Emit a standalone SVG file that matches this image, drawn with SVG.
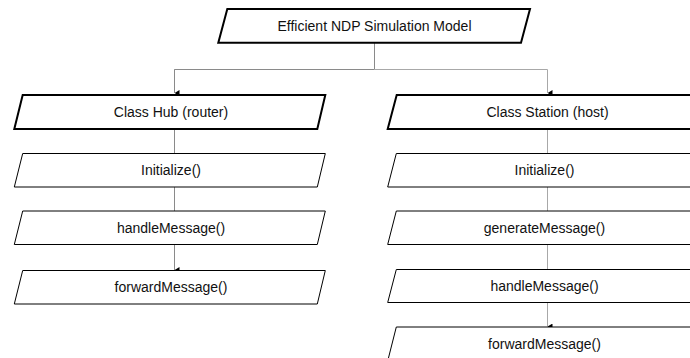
<svg xmlns="http://www.w3.org/2000/svg" width="690" height="358" viewBox="0 0 690 358">
<defs>
<style>
.bx{fill:#fff;stroke:#000;stroke-width:1}
.bt{fill:#fff;stroke:#000;stroke-width:2}
.tx{font-family:"Liberation Sans",Arial,sans-serif;font-size:14px;fill:#111;text-anchor:middle;dominant-baseline:central}
.cl{fill:none;stroke:#8a8a8a;stroke-width:1}
.cr{fill:none;stroke:#a8a8a8;stroke-width:1}
</style>
<marker id="ah" markerWidth="6" markerHeight="5" refX="3" refY="5" orient="auto-start-reverse" markerUnits="userSpaceOnUse" viewBox="0 0 6 5">
<path d="M0,0 L6,0 L3,5 Z" fill="#000"/>
</marker>
</defs>
<rect width="690" height="358" fill="#fff"/>
<g id="connectors">
<path class="cl" d="M374.5,42.7 V69.5 H174.5 V93"/>
<path class="cr" d="M374.5,69.5 H547.5 V93" marker-end="url(#ah)"/>
<path class="cl" d="M174.5,69.5 V93" marker-end="url(#ah)"/>
<path class="cl" d="M174.5,129 V153"/>
<path class="cl" d="M174.5,187 V211"/>
<path class="cl" d="M174.5,244.5 V270" marker-end="url(#ah)"/>
<path class="cr" d="M547.5,129 V153"/>
<path class="cr" d="M547.5,187 V211"/>
<path class="cr" d="M547.5,244.5 V269.5"/>
<path class="cr" d="M547.5,302.5 V326.5" marker-end="url(#ah)"/>
</g>
<g id="root">
<polygon class="bt" points="227.3,9 530,9 521,42.7 218.3,42.7"/>
<text class="tx" x="374.5" y="26">Efficient NDP Simulation Model</text>
</g>
<g id="hub">
<polygon class="bt" points="22.7,95 325.3,95 317.3,129 14.3,129"/>
<text class="tx" x="171" y="112">Class Hub (router)</text>
</g>
<g id="hub-init">
<polygon class="bx" points="22.7,153.5 325.3,153.5 317.3,187 14.3,187"/>
<text class="tx" x="171" y="170">Initialize()</text>
</g>
<g id="hub-handle">
<polygon class="bx" points="22.7,211 325.3,211 317.3,244.5 14.3,244.5"/>
<text class="tx" x="171" y="228">handleMessage()</text>
</g>
<g id="hub-forward">
<polygon class="bx" points="22.7,270.5 325.3,270.5 317.3,304 14.3,304"/>
<text class="tx" x="171" y="287">forwardMessage()</text>
</g>
<g id="station">
<polygon class="bt" points="396.7,95 700,95 692,129 387.7,129"/>
<text class="tx" x="547.5" y="112">Class Station (host)</text>
</g>
<g id="station-init">
<polygon class="bx" points="396.3,153.5 700,153.5 692,187 387.7,187"/>
<text class="tx" x="544.5" y="170">Initialize()</text>
</g>
<g id="station-generate">
<polygon class="bx" points="396.3,211 700,211 692,244.5 387.7,244.5"/>
<text class="tx" x="544.5" y="228">generateMessage()</text>
</g>
<g id="station-handle">
<polygon class="bx" points="396.3,269.5 700,269.5 692,302.5 387.7,302.5"/>
<text class="tx" x="544.5" y="286">handleMessage()</text>
</g>
<g id="station-forward">
<polygon class="bx" points="396.3,327 700,327 692,361 387.7,361"/>
<text class="tx" x="544.5" y="344">forwardMessage()</text>
</g>
</svg>
